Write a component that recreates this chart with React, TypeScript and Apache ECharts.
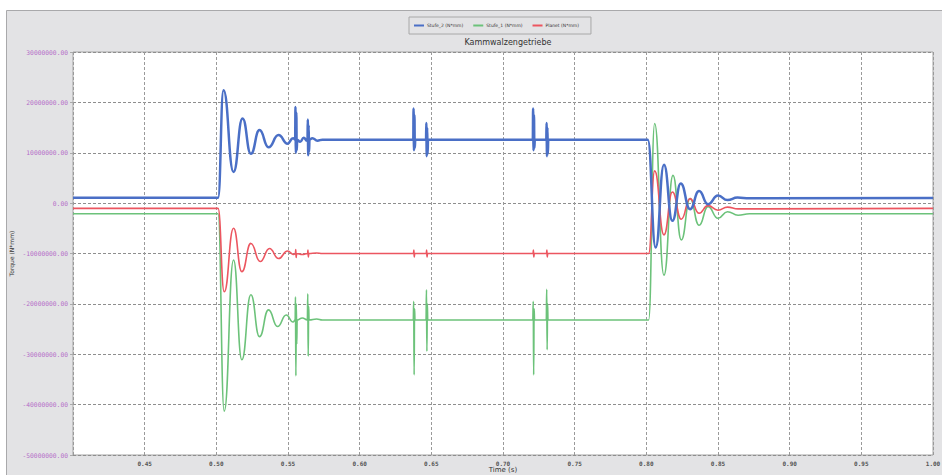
import React, { useEffect, useRef } from "react";
import * as echarts from "echarts";

const chartTitle = "Kammwalzengetriebe";
const seriesNames = ["Stufe_2 (N*mm)", "Stufe_1 (N*mm)", "Planet (N*mm)"];
const seriesColors = ["#4a6fc6", "#6cc27a", "#ec5660"];

// [time (s), torque (N*mm)]
const stufe2: [number, number][] = [
  [0.4, 1.05e6], [0.5012, 1.05e6], [0.505, 22.4e6], [0.512, 6.2e6], [0.5183, 16.8e6],
  [0.5241, 9.8e6], [0.5301, 14.5e6], [0.5364, 11.1e6], [0.5434, 13.5e6], [0.5497, 11.8e6],
  [0.5535, 12.9e6], [0.555, 12.6e6], [0.5552, 19.1e6], [0.5555, 10.0e6], [0.5558, 18.0e6],
  [0.5561, 10.5e6], [0.5564, 12.6e6], [0.5585, 12.2e6], [0.561, 13.0e6], [0.5632, 12.4e6],
  [0.5636, 12.6e6], [0.5638, 16.6e6], [0.5641, 9.5e6], [0.5644, 15.5e6], [0.5647, 10.2e6],
  [0.565, 12.6e6], [0.567, 12.9e6], [0.5705, 12.4e6], [0.574, 12.6e6],
  [0.6374, 12.6e6], [0.6376, 18.8e6], [0.6379, 10.5e6], [0.6382, 17.5e6], [0.6385, 11.0e6], [0.6388, 12.6e6],
  [0.6463, 12.6e6], [0.6465, 15.9e6], [0.6468, 9.3e6], [0.6471, 15.0e6], [0.6474, 9.8e6], [0.6477, 12.6e6],
  [0.7208, 12.6e6], [0.721, 18.8e6], [0.7213, 10.5e6], [0.7216, 17.5e6], [0.7219, 11.0e6], [0.7222, 12.6e6],
  [0.7302, 12.6e6], [0.7304, 15.9e6], [0.7307, 9.3e6], [0.731, 15.0e6], [0.7313, 9.8e6], [0.7316, 12.6e6],
  [0.801, 12.6e6], [0.8065, -8.8e6], [0.8123, 7.6e6], [0.8182, -3.5e6], [0.824, 3.9e6],
  [0.8305, -1.2e6], [0.8368, 2.4e6], [0.843, -0.2e6], [0.85, 1.5e6], [0.8566, 0.6e6],
  [0.8636, 1.1e6], [0.872, 0.95e6], [1.0, 1.0e6],
];

const stufe1: [number, number][] = [
  [0.4, -2.1e6], [0.5012, -2.1e6], [0.5055, -41.3e6], [0.512, -11.3e6], [0.5178, -31.1e6],
  [0.5241, -18.2e6], [0.5301, -26.5e6], [0.5364, -21.2e6], [0.5427, -24.5e6], [0.5488, -22.2e6],
  [0.5535, -23.6e6], [0.555, -23.2e6], [0.5552, -18.6e6], [0.5555, -34.3e6], [0.5558, -20.0e6],
  [0.5561, -28.0e6], [0.5564, -23.2e6], [0.56, -22.8e6], [0.5635, -23.2e6], [0.5638, -18.0e6],
  [0.5641, -30.4e6], [0.5644, -20.5e6], [0.5647, -23.2e6], [0.57, -23.0e6], [0.574, -23.2e6],
  [0.6374, -23.2e6], [0.6377, -19.5e6], [0.638, -34.1e6], [0.6383, -21.0e6], [0.6386, -23.2e6],
  [0.6463, -23.2e6], [0.6466, -17.2e6], [0.6469, -29.4e6], [0.6472, -20.0e6], [0.6475, -23.2e6],
  [0.7208, -23.2e6], [0.7211, -19.5e6], [0.7214, -34.1e6], [0.7217, -21.0e6], [0.722, -23.2e6],
  [0.7302, -23.2e6], [0.7305, -17.1e6], [0.7308, -29.1e6], [0.7311, -20.0e6], [0.7314, -23.2e6],
  [0.8016, -23.2e6], [0.8058, 15.8e6], [0.8123, -14.3e6], [0.8186, 5.5e6], [0.8244, -7.3e6],
  [0.8305, 0.9e6], [0.8368, -4.4e6], [0.843, -0.7e6], [0.85, -3.0e6], [0.8566, -1.7e6],
  [0.864, -2.4e6], [0.872, -2.1e6], [1.0, -2.1e6],
];

const planet: [number, number][] = [
  [0.4, -1.05e6], [0.5012, -1.05e6], [0.5055, -17.6e6], [0.512, -5.0e6], [0.5178, -13.6e6],
  [0.5241, -8.0e6], [0.5306, -11.6e6], [0.5371, -9.0e6], [0.5434, -11.0e6], [0.5497, -9.5e6],
  [0.554, -10.2e6], [0.5552, -10.0e6], [0.5554, -9.2e6], [0.5557, -10.8e6], [0.556, -10.0e6],
  [0.56, -10.2e6], [0.5637, -10.0e6], [0.5639, -9.3e6], [0.5642, -10.7e6], [0.5645, -10.0e6],
  [0.57, -9.9e6], [0.574, -10.0e6],
  [0.6376, -10.0e6], [0.6378, -9.3e6], [0.6381, -10.7e6], [0.6384, -10.0e6],
  [0.6465, -10.0e6], [0.6467, -9.3e6], [0.647, -10.7e6], [0.6473, -10.0e6],
  [0.721, -10.0e6], [0.7212, -9.3e6], [0.7215, -10.7e6], [0.7218, -10.0e6],
  [0.7304, -10.0e6], [0.7306, -9.3e6], [0.7309, -10.7e6], [0.7312, -10.0e6],
  [0.8016, -10.0e6], [0.8058, 6.4e6], [0.8123, -6.3e6], [0.8182, 2.2e6], [0.8244, -3.2e6],
  [0.8305, 0.9e6], [0.8368, -2.0e6], [0.843, -0.5e6], [0.85, -1.4e6], [0.8566, -0.8e6],
  [0.864, -1.15e6], [1.0, -1.05e6],
];

const xMin = 0.4;
const xMax = 1.0;
const xStep = 0.05;
const yMin = -50000000;
const yMax = 30000000;
const yStep = 10000000;

export default function App() {
  const ref = useRef<HTMLDivElement>(null);

  useEffect(() => {
    document.body.style.margin = "0";
    const chart = echarts.init(ref.current!, undefined, { renderer: "svg" });
    const allData = [stufe2, stufe1, planet];
    chart.setOption({
      animation: false,
      backgroundColor: "#ffffff",
      graphic: [
        {
          type: "rect",
          z: -100,
          shape: { x: 6.5, y: 10.5, width: 950, height: 480 },
          style: { fill: "#e3e3e5", stroke: "#a9a9ab", lineWidth: 1 },
        },
      ],
      title: {
        text: chartTitle,
        left: 503,
        top: 33,
        textAlign: "center",
        textStyle: { fontSize: 8, fontWeight: "normal", color: "#333", fontFamily: "DejaVu Sans" },
      },
      legend: {
        left: 409,
        top: 17,
        padding: [6, 12, 6, 5],
        itemGap: 10,
        itemWidth: 10,
        itemHeight: 2,
        icon: "rect",
        borderColor: "#a8a8a8",
        borderWidth: 1,
        data: seriesNames,
        textStyle: { fontSize: 4.5, color: "#333", fontFamily: "DejaVu Sans", padding: [0, 0, 0, -2] },
      },
      grid: {
        left: 73,
        top: 52,
        right: 9,
        bottom: 20,
        show: true,
        outerBoundsMode: "none",
        containLabel: false,
        backgroundColor: "#ffffff",
        borderColor: "#a4a4a4",
        borderWidth: 1,
      },
      xAxis: {
        type: "value",
        min: xMin,
        max: xMax,
        interval: xStep,
        name: "Time (s)",
        nameLocation: "middle",
        nameGap: 11,
        nameMoveOverlap: false,
        nameTextStyle: { fontSize: 7, color: "#333", fontFamily: "DejaVu Sans" },
        axisLine: { show: false },
        axisTick: { show: false },
        axisLabel: {
          showMinLabel: false,
          margin: 5,
          fontSize: 6,
          color: "#555",
          fontWeight: "bold",
          fontFamily: "DejaVu Sans Mono",
          formatter: (v: number) => v.toFixed(2),
        },
        splitLine: { show: true, lineStyle: { color: "#9a9a9a", type: [3, 2], width: 1 } },
      },
      yAxis: {
        type: "value",
        min: yMin,
        max: yMax,
        interval: yStep,
        name: "Torque (N*mm)",
        nameLocation: "middle",
        nameGap: 59,
        nameRotate: 90,
        nameMoveOverlap: false,
        nameTextStyle: { fontSize: 6, color: "#333", fontFamily: "DejaVu Sans" },
        axisLine: { show: false },
        axisTick: { show: true, length: 3, lineStyle: { color: "#aaa" } },
        axisLabel: {
          margin: 5,
          fontSize: 6.3,
          color: "#b46cc8",
          fontFamily: "DejaVu Sans Mono",
          formatter: (v: number) => v.toFixed(2),
        },
        splitLine: { show: true, lineStyle: { color: "#8e8e8e", type: [3, 2], width: 1 } },
      },
      series: seriesNames.map((name, i) => ({
        name,
        type: "line",
        data: allData[i],
        showSymbol: false,
        smooth: 0.5,
        smoothMonotone: "x",
        color: seriesColors[i],
        lineStyle: { width: i === 0 ? 2.5 : 1.6, color: seriesColors[i] },
        z: i === 0 ? 3 : 2,
      })),
    });
    return () => chart.dispose();
  }, []);

  return <div ref={ref} style={{ width: 942, height: 475 }} />;
}
